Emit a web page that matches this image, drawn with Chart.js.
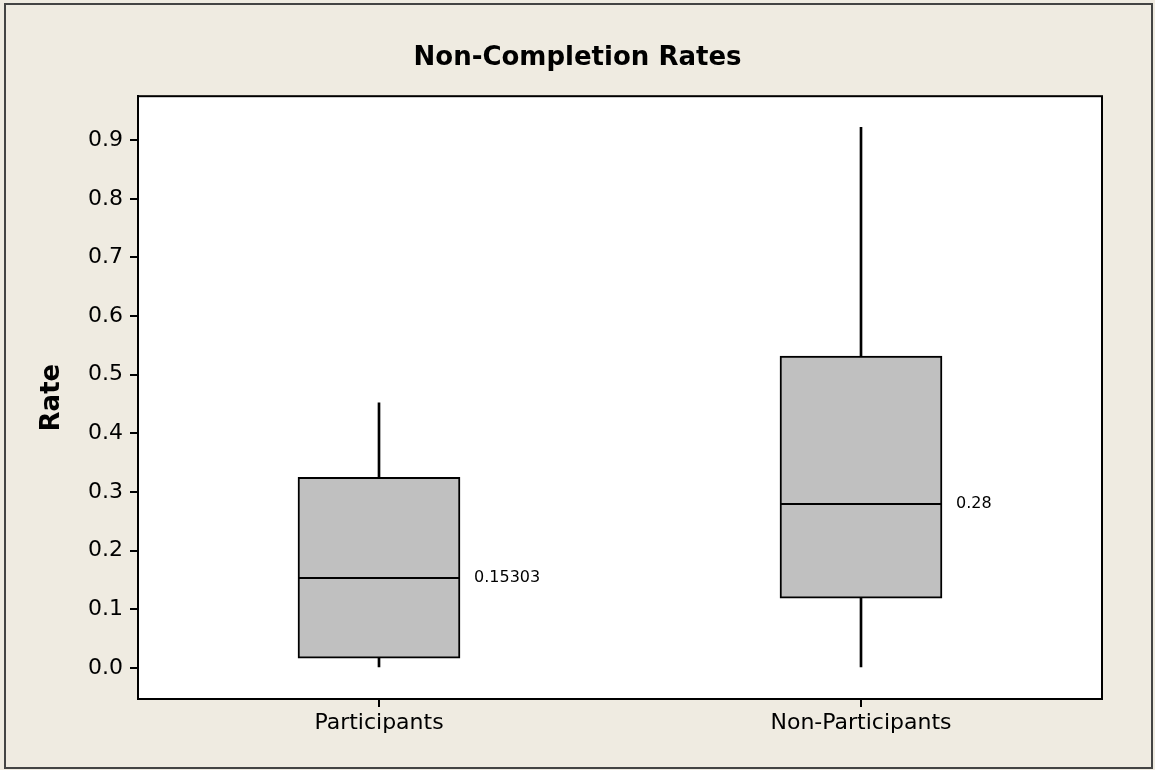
<!DOCTYPE html>
<html>
<head>
<meta charset="utf-8">
<script src="https://cdn.jsdelivr.net/npm/chart.js@4/dist/chart.umd.min.js"></script>
<style>
  body { margin: 0; background: #EFEBE1; }
  canvas { display: block; }
</style>
</head>
<body>
<canvas id="boxChart" width="1155" height="770"></canvas>
<script>
const groups = ['Participants', 'Non-Participants'];
const mins = [0.0, 0.0];
const q1s = [0.0165, 0.119];
const medians = [0.15303, 0.28];
const q3s = [0.325, 0.532];
const maxs = [0.452, 0.922];
const medianLabels = ['0.15303', '0.28'];
const yTicks = [0.0, 0.1, 0.2, 0.3, 0.4, 0.5, 0.6, 0.7, 0.8, 0.9];

const FONT = 'DejaVu Sans';

// background, outer frame, white plot area and its frame
const framePlugin = {
  id: 'frame',
  beforeDraw(chart) {
    const { ctx, chartArea: a } = chart;
    ctx.save();
    ctx.fillStyle = '#EFEBE1';
    ctx.fillRect(0, 0, chart.width, chart.height);
    ctx.strokeStyle = '#444';
    ctx.lineWidth = 2;
    ctx.strokeRect(5, 4, chart.width - 8, chart.height - 6);
    ctx.fillStyle = '#fff';
    ctx.fillRect(a.left, a.top, a.right - a.left, a.bottom - a.top);
    ctx.restore();
  },
  afterDraw(chart) {
    const { ctx, chartArea: a } = chart;
    ctx.save();
    ctx.strokeStyle = '#000';
    ctx.lineWidth = 2;
    ctx.strokeRect(a.left, a.top, a.right - a.left, a.bottom - a.top);
    ctx.restore();
  }
};

// median line across each box plus its value label
const medianPlugin = {
  id: 'medians',
  afterDatasetsDraw(chart) {
    const { ctx } = chart;
    const y = chart.scales.y;
    const boxes = chart.getDatasetMeta(0).data;
    ctx.save();
    ctx.strokeStyle = '#000';
    ctx.lineWidth = 2;
    ctx.fillStyle = '#000';
    ctx.font = '16px "' + FONT + '"';
    ctx.textBaseline = 'middle';
    boxes.forEach((bar, i) => {
      const py = Math.round(y.getPixelForValue(medians[i]));
      const half = bar.width / 2;
      ctx.beginPath();
      ctx.moveTo(bar.x - half, py);
      ctx.lineTo(bar.x + half, py);
      ctx.stroke();
      ctx.fillText(medianLabels[i], bar.x + half + 14, py);
    });
    ctx.restore();
  }
};

new Chart(document.getElementById('boxChart'), {
  type: 'bar',
  data: {
    labels: groups,
    datasets: [
      {
        label: 'box',
        data: groups.map((g, i) => [q1s[i], q3s[i]]),
        backgroundColor: '#C0C0C0',
        borderColor: '#000',
        borderWidth: 2,
        borderSkipped: false,
        barThickness: 162,
        grouped: false,
        order: 1
      },
      {
        label: 'lower whisker',
        data: groups.map((g, i) => [mins[i], q1s[i]]),
        backgroundColor: '#000',
        borderWidth: 0,
        barThickness: 2,
        grouped: false,
        order: 2
      },
      {
        label: 'upper whisker',
        data: groups.map((g, i) => [q3s[i], maxs[i]]),
        backgroundColor: '#000',
        borderWidth: 0,
        barThickness: 2,
        grouped: false,
        order: 2
      }
    ]
  },
  options: {
    responsive: false,
    animation: false,
    layout: { padding: 0 },
    plugins: {
      legend: { display: false },
      tooltip: { enabled: false },
      title: {
        display: true,
        text: 'Non-Completion Rates',
        color: '#000',
        font: { family: FONT, size: 26, weight: 'bold' },
        padding: { top: 43, bottom: 22 }
      }
    },
    scales: {
      x: {
        offset: true,
        grid: { display: true, offset: false, drawOnChartArea: false, color: '#000', lineWidth: 2, tickLength: 8 },
        border: { display: true, color: '#000', width: 2 },
        ticks: { color: '#000', font: { family: FONT, size: 22 }, padding: 3 },
        afterFit: axis => { axis.height = 71; }
      },
      y: {
        min: -0.053,
        max: 0.975,
        grid: { display: true, drawOnChartArea: false, color: '#000', lineWidth: 2, tickLength: 8 },
        border: { display: true, color: '#000', width: 2 },
        afterBuildTicks: axis => { axis.ticks = yTicks.map(v => ({ value: v })); },
        ticks: {
          color: '#000',
          font: { family: FONT, size: 22 },
          padding: 7,
          callback: v => Number(v).toFixed(1)
        },
        title: {
          display: true,
          text: 'Rate',
          color: '#000',
          font: { family: FONT, size: 26, weight: 'bold' },
          padding: { top: 37, bottom: 0 }
        },
        afterFit: axis => { axis.width = 138; }
      },
      // empty right-hand axis, only reserves the margin right of the plot
      yRight: {
        position: 'right',
        display: true,
        grid: { display: false },
        border: { display: false },
        ticks: { display: false },
        afterFit: axis => { axis.width = 53; }
      }
    }
  },
  plugins: [framePlugin, medianPlugin]
});
</script>
</body>
</html>
